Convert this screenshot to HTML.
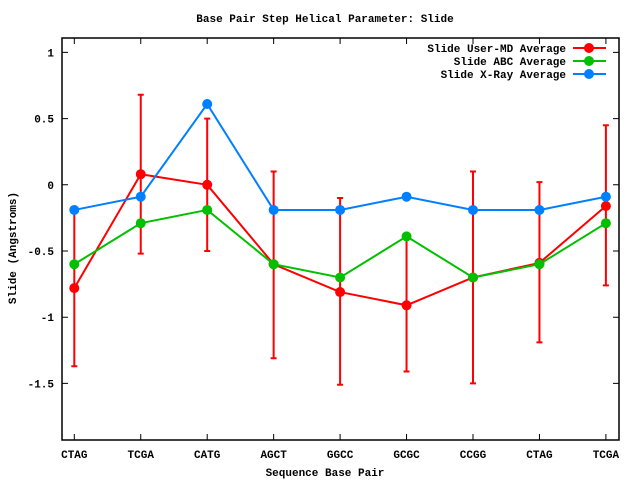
<!DOCTYPE html>
<html><head><meta charset="utf-8"><style>
body{margin:0;background:#fff}
svg text{font-family:"Liberation Mono","DejaVu Sans Mono",monospace;font-size:11px;font-weight:bold;fill:#000}
</style></head><body>
<svg id="chart" width="640" height="480" xmlns="http://www.w3.org/2000/svg">
<text x="325" y="22" text-anchor="middle">Base Pair Step Helical Parameter: Slide</text>
<text x="325" y="476" text-anchor="middle">Sequence Base Pair</text>
<text transform="translate(16,248) rotate(-90)" text-anchor="middle">Slide (Angstroms)</text>
<g id="axes"></g>
<g id="marks"></g>
<g id="legend"></g>
</svg>
<script>
const categories=["CTAG","TCGA","CATG","AGCT","GGCC","GCGC","CCGG","CTAG","TCGA"];
const yTicks=[1,0.5,0,-0.5,-1,-1.5];
const yTickLabels=["1","0.5","0","-0.5","-1","-1.5"];
const userMD=[-0.78,0.08,0.0,-0.6,-0.81,-0.91,-0.7,-0.59,-0.16];
const userMDHigh=[-0.2,0.68,0.5,0.1,-0.1,-0.4,0.1,0.02,0.45];
const userMDLow=[-1.37,-0.52,-0.5,-1.31,-1.51,-1.41,-1.5,-1.19,-0.76];
const abc=[-0.6,-0.29,-0.19,-0.6,-0.7,-0.39,-0.7,-0.6,-0.29];
const xray=[-0.19,-0.09,0.61,-0.19,-0.19,-0.09,-0.19,-0.19,-0.09];
const seriesNames=["Slide User-MD Average","Slide ABC Average","Slide X-Ray Average"];

const NS="http://www.w3.org/2000/svg";
const L=62,R=619,T=38,B=440;
const X0=74.3,DX=66.45;
function xs(i){return X0+i*DX;}
function ys(v){return 184.8-v*132.4;}
function mk(tag,attrs,parent){const e=document.createElementNS(NS,tag);for(const k in attrs)e.setAttribute(k,attrs[k]);parent.appendChild(e);return e;}
const axes=document.getElementById('axes'),marks=document.getElementById('marks'),legend=document.getElementById('legend');

const frame=mk('rect',{x:L,y:T,width:R-L,height:B-T,fill:'none',stroke:'#000','stroke-width':1.5},axes);


yTicks.forEach((v,i)=>{
  const y=ys(v);
  const t=mk('path',{d:`M${L} ${y}h6M${R} ${y}h-6`,stroke:'#000','stroke-width':1},axes);
  
  
  const lb=mk('text',{x:L-8,y:y+4,'text-anchor':'end'},axes);
  lb.textContent=yTickLabels[i];
  
  
});
categories.forEach((c,i)=>{
  const x=xs(i);
  const t=mk('path',{d:`M${x} ${B}v-6M${x} ${T}v6`,stroke:'#000','stroke-width':1},axes);
  
  
  const lb=mk('text',{x:x,y:B+18,'text-anchor':'middle'},axes);
  lb.textContent=c;
  
  
});

// error bars
categories.forEach((c,i)=>{
  const x=xs(i),y1=ys(userMDHigh[i]),y2=ys(userMDLow[i]);
  const e=mk('path',{d:`M${x} ${y1}V${y2}M${x-3} ${y1}h6M${x-3} ${y2}h6`,stroke:'#f00','stroke-width':2,fill:'none'},marks);
  
  
});
function drawSeries(vals,color,name){
  const d=vals.map((v,i)=>(i?'L':'M')+xs(i)+' '+ys(v)).join('');
  const p=mk('path',{d:d,stroke:color,'stroke-width':2,fill:'none'},marks);
  
  
  vals.forEach((v,i)=>{
    const c=mk('circle',{cx:xs(i),cy:ys(v),r:5,fill:color},marks);
    
    
  });
}
drawSeries(userMD,'#f00','user-md');
drawSeries(abc,'#00c000','abc');
drawSeries(xray,'#0080ff','xray');

const colors=['#f00','#00c000','#0080ff'];
seriesNames.forEach((n,i)=>{
  const y=48+i*13;
  const t=mk('text',{x:566,y:y+4,'text-anchor':'end'},legend);
  t.textContent=n;
  
  
  const l=mk('path',{d:`M573 ${y}H606`,stroke:colors[i],'stroke-width':2},legend);
  
  
  const c=mk('circle',{cx:589,cy:y,r:5,fill:colors[i]},legend);
  
  
});
</script>
</body></html>
